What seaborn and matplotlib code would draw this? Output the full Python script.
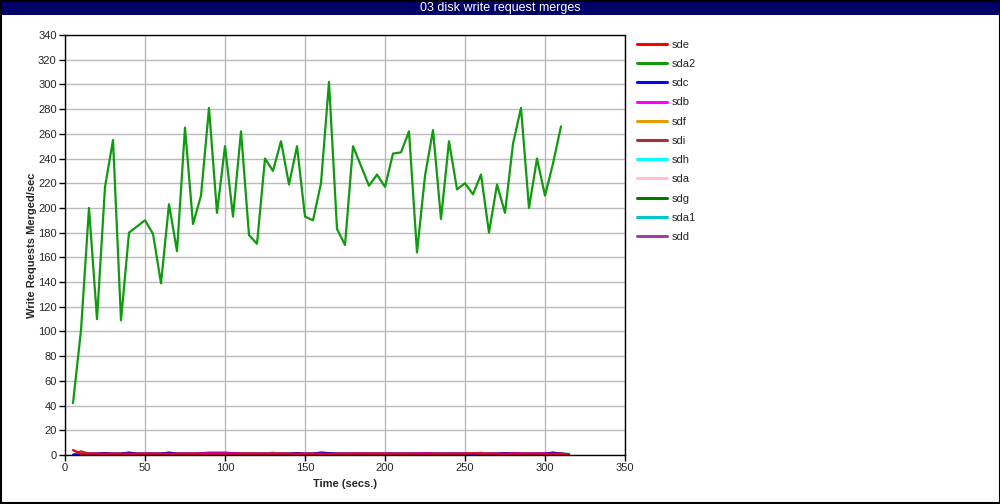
import matplotlib
matplotlib.use("Agg")
import matplotlib.pyplot as plt
import matplotlib.patches as mpatches
import seaborn as sns
import pandas as pd

times = [5, 10, 15, 20, 25, 30, 35, 40, 45, 50, 55, 60, 65, 70, 75, 80, 85, 90, 95, 100,
         105, 110, 115, 120, 125, 130, 135, 140, 145, 150, 155, 160, 165, 170, 175, 180,
         185, 190, 195, 200, 205, 210, 215, 220, 225, 230, 235, 240, 245, 250, 255, 260,
         265, 270, 275, 280, 285, 290, 295, 300, 305, 310, 315]

sda2 = [42, 101, 200, 110, 217, 255, 109, 180, 185, 190, 179, 139, 203, 165, 265, 187,
        210, 281, 196, 250, 193, 262, 178, 171, 240, 230, 254, 219, 250, 193, 190, 220,
        302, 183, 170, 250, 234, 218, 227, 217, 244, 245, 262, 164, 226, 263, 191, 254,
        215, 220, 211, 227, 180, 219, 196, 252, 281, 200, 240, 210, 236, 266]

sde = [4, 1, 1, 1, 1, 1, 1, 1, 1, 1, 1, 1, 1, 1, 1, 1, 1, 1, 1, 1, 1, 1, 1, 1, 1, 1,
       1, 1, 1, 1, 1, 1, 1, 1, 1, 1, 1, 1, 1, 1, 1, 1, 1, 1, 1, 1, 1, 1, 1, 1, 1.5, 1, 1,
       1, 1, 1, 1, 1, 1, 1, 1, 1, 0.5]
sdc = [0, 0.5, 1, 1, 1.5, 1, 1, 2, 1, 1, 1, 1, 2, 1, 1, 1, 1, 1, 1, 1, 1, 1, 1, 1, 1, 1,
       1, 1, 1.5, 1, 1, 2, 1.5, 1, 1, 1, 1, 1, 1, 1, 1, 1, 1, 1, 1, 1, 1, 1, 1, 1, 1, 1, 1,
       1, 1.5, 1, 1, 1, 1, 1, 2, 1, 0.5]
sdb = [0, 0.5, 1, 1, 1, 1, 1, 1, 1, 1, 1, 1, 1, 1, 1, 1, 1.5, 2, 2, 2, 1.5, 1, 1, 1, 1,
       1, 1, 1, 1, 1, 1, 1, 1, 1, 1, 1, 1, 1, 1, 1, 1, 1, 1, 1, 1.5, 1, 1, 1, 1, 1, 1, 1,
       1, 1, 1, 1.5, 1, 1, 1, 1.5, 1, 1, 0.5]
sdf = [0, 0.5, 1, 1, 1, 1, 1, 1, 1, 1, 1, 1, 1, 1, 1, 1.5, 1, 1, 1, 1, 1, 1, 1.5, 1, 1,
       2, 1, 1, 1, 1, 1, 1, 1, 1, 1, 1, 1, 1.5, 1, 1, 1, 1, 1, 1, 1, 1, 1, 1, 1, 1, 1, 2, 1,
       1, 1, 1.5, 1, 1, 1, 1, 1, 1, 0.5]
sdi = [0, 3, 1, 1, 1, 1, 1, 1.5, 1, 1, 1, 1, 1, 1, 1, 1, 1, 1, 1, 1, 1, 1, 1, 1, 1, 1,
       1, 1, 1, 1, 1, 1, 1, 1, 1, 1, 1, 1, 1, 1, 1, 1, 1, 1, 1, 1, 1, 1, 1, 1, 1, 1, 1, 1,
       1, 1, 1, 1, 1, 1, 1, 1, 0.5]
sdh = [0, 0.5, 1, 1, 1, 1, 1, 1, 1, 1, 1, 1, 1, 1, 1, 1, 1, 1, 1, 2, 1, 1, 1, 1, 1, 1,
       1, 1, 1.5, 1, 1, 1, 1, 1, 1, 1, 1, 1, 1, 1, 1, 1, 1, 1, 1, 1, 1, 1, 1, 1, 1.5, 1,
       1, 1, 1, 1, 1, 1, 1, 1, 1, 1, 1]
sda = [0, 0.5, 1, 1, 1, 1, 1, 1, 1, 1, 1, 1, 1, 1, 1, 1, 1, 1, 1, 1, 1, 1, 1, 1, 1, 1,
       1, 1, 1, 1, 1, 1, 1, 1, 1, 1, 1, 1, 1, 1, 1, 1, 1, 1, 1, 1, 1, 1, 1, 1, 1, 1, 1, 1,
       1, 1, 1, 1, 1, 1, 1, 1, 0.5]
sdg = [0, 0.5, 1, 1, 1, 1, 1, 1, 1, 1, 1, 1, 1, 1, 1, 1, 1, 1, 1, 1, 1, 1, 1, 1, 1, 1,
       1, 1, 1, 1, 1, 1, 1, 1, 1, 1, 1, 1, 1, 1, 1, 1, 1, 1, 1, 1, 1, 1, 1, 1, 1.5, 1, 1,
       1, 1, 1, 1, 1, 1, 1, 1, 1.5, 0.5]
sda1 = [0, 0.5, 0.5, 0.5, 0.5, 0.5, 0.5, 0.5, 0.5, 0.5, 0.5, 0.5, 0.5, 0.5, 0.5, 0.5,
        0.5, 0.5, 0.5, 1.5, 0.5, 0.5, 0.5, 0.5, 0.5, 0.5, 0.5, 0.5, 0.5, 0.5, 0.5, 0.5,
        0.5, 0.5, 0.5, 0.5, 0.5, 0.5, 0.5, 0.5, 0.5, 0.5, 0.5, 0.5, 0.5, 0.5, 0.5, 0.5,
        0.5, 0.5, 0.5, 0.5, 0.5, 0.5, 0.5, 0.5, 0.5, 0.5, 0.5, 0.5, 0.5, 0.5, 0.5]
sdd = [0, 0.5, 0.5, 0.5, 0.5, 0.5, 0.5, 0.5, 0.5, 0.5, 0.5, 0.5, 0.5, 0.5, 0.5, 0.5,
       0.5, 0.5, 0.5, 0.5, 0.5, 0.5, 0.5, 0.5, 0.5, 0.5, 0.5, 0.5, 0.5, 0.5, 0.5, 0.5,
       0.5, 0.5, 0.5, 0.5, 0.5, 0.5, 0.5, 0.5, 0.5, 0.5, 0.5, 0.5, 0.5, 0.5, 0.5, 0.5,
       0.5, 0.5, 0.5, 0.5, 0.5, 0.5, 0.5, 0.5, 0.5, 0.5, 0.5, 0.5, 0.5, 0.5, 0.5]

series_names = ["sde", "sda2", "sdc", "sdb", "sdf", "sdi", "sdh", "sda", "sdg", "sda1", "sdd"]
series_values = [sde, sda2, sdc, sdb, sdf, sdi, sdh, sda, sdg, sda1, sdd]
colors = ["#FF0000", "#109A10", "#0000FF", "#FF00FF", "#E89A00", "#A83232",
          "#00FFFF", "#FFC0CB", "#007A00", "#00C8C8", "#A040A0"]

sns.set_style("white")
plt.rcParams["font.family"] = ["Liberation Sans", "DejaVu Sans"]

fig = plt.figure(figsize=(10, 5.04), dpi=100)
ax = fig.add_axes([0.065, 1 - 455 / 504, 0.56, 420 / 504])

palette = dict(zip(series_names, colors))
# draw in reverse so that sde ends on top, like the reference
for name, vals in reversed(list(zip(series_names, series_values))):
    df = pd.DataFrame({"Time": times[:len(vals)], "Value": vals})
    sns.lineplot(data=df, x="Time", y="Value", ax=ax, color=palette[name],
                 linewidth=1.6, label=name, legend=False)

ax.set_xlim(0, 350)
ax.set_ylim(0, 340)
ax.set_xticks(range(0, 351, 50))
ax.set_yticks(range(0, 341, 20))
ax.grid(True, color="#BBBBBB", linewidth=1)
ax.set_axisbelow(True)
for s in ax.spines.values():
    s.set_color("black")
    s.set_linewidth(1)
    s.set_visible(True)
ax.tick_params(axis="both", direction="out", length=4, width=1, color="black",
               labelsize=8, pad=2, bottom=True, left=True)
ax.set_xlabel("Time (secs.)", fontsize=8, fontweight="bold", labelpad=4)
ax.set_ylabel("Write Requests Merged/sec", fontsize=8, fontweight="bold", labelpad=1)

handles = [plt.Line2D([0], [0], color=c, linewidth=2.2) for c in colors]
fig.legend(handles, series_names, loc="upper left", bbox_to_anchor=(0.637, 0.921),
           frameon=False, fontsize=8, handlelength=2.7, handletextpad=0.4,
           labelspacing=0.83, borderaxespad=0, borderpad=0)

# title bar
fig.patches.append(mpatches.Rectangle((0, 1 - 15 / 504), 1, 15 / 504, transform=fig.transFigure,
                                      facecolor="#000066", edgecolor="none", zorder=0))
fig.text(0.5, 1 - 7.5 / 504, "03 disk write request merges", color="white", fontsize=9,
         ha="center", va="center")
fig.patches.append(mpatches.Rectangle((0.0005, 0.001), 0.999, 0.998, transform=fig.transFigure,
                                      facecolor="none", edgecolor="black", linewidth=1.5, zorder=5))

fig.savefig("out.png", dpi=100)
